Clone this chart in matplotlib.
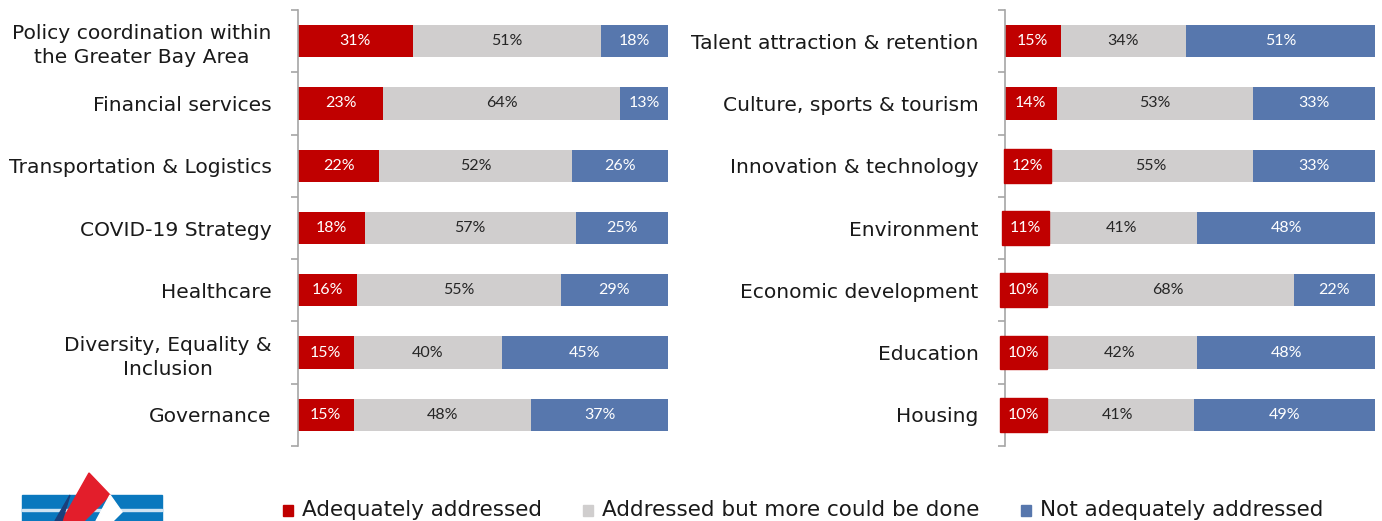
import matplotlib
matplotlib.use("Agg")
import matplotlib.pyplot as plt
from matplotlib.patches import Rectangle, Polygon

plt.rcParams['font.family'] = ['Lato', 'DejaVu Sans']

RED = "#C00000"
GRAY = "#D0CECE"
BLUE = "#5777AD"
SPINE = "#A6A6A6"

left_cats = ["Policy coordination within\nthe Greater Bay Area", "Financial services",
             "Transportation & Logistics", "COVID-19 Strategy", "Healthcare",
             "Diversity, Equality &\nInclusion", "Governance"]
left_adequate = [31, 23, 22, 18, 16, 15, 15]
left_more = [51, 64, 52, 57, 55, 40, 48]
left_not = [18, 13, 26, 25, 29, 45, 37]

right_cats = ["Talent attraction & retention", "Culture, sports & tourism",
              "Innovation & technology", "Environment", "Economic development",
              "Education", "Housing"]
right_adequate = [15, 14, 12, 11, 10, 10, 10]
right_more = [34, 53, 55, 41, 68, 42, 41]
right_not = [51, 33, 33, 48, 22, 48, 49]

series_names = ["Adequately addressed", "Addressed but more could be done",
                "Not adequately addressed"]

fig = plt.figure(figsize=(13.82, 5.21), dpi=100)
BAR_H = 0.52


def panel(rect, cats, a, m, n):
    ax = fig.add_axes(rect)
    ys = list(range(len(cats)))
    lefts = [0] * len(cats)
    for vals, col, tc in [(a, RED, "white"), (m, GRAY, "#262626"), (n, BLUE, "white")]:
        ax.barh(ys, vals, left=lefts, height=BAR_H, color=col, edgecolor="none")
        for y, l, v in zip(ys, lefts, vals):
            if col == RED and v <= 12:
                # label box wider than the thin red segment
                ax.add_patch(Rectangle((v / 2 - 6.35, y - BAR_H / 2 - 0.01), 12.7,
                                       BAR_H + 0.02, color=RED, clip_on=False, zorder=3))
            ax.text(l + v / 2, y, f"{v}%", ha="center", va="center",
                    fontsize=11.5, color=tc, zorder=4)
        lefts = [l + v for l, v in zip(lefts, vals)]
    ax.set_xlim(0, 100)
    ax.set_ylim(len(cats) - 0.5, -0.5)
    ax.set_yticks(ys)
    ax.set_yticklabels(cats, fontsize=14.6, color="#1a1a1a", linespacing=1.35,
                       family="DejaVu Sans")
    for t in ax.get_yticklabels():
        t.set_multialignment("center")
    ax.tick_params(axis="y", which="major", length=0, pad=19)
    ax.set_yticks([y - 0.5 for y in ys] + [len(cats) - 0.5], minor=True)
    ax.tick_params(axis="y", which="minor", length=5, color=SPINE, width=1.2)
    ax.set_xticks([])
    for s in ["top", "right", "bottom"]:
        ax.spines[s].set_visible(False)
    ax.spines["left"].set_color(SPINE)
    ax.spines["left"].set_linewidth(1.2)
    return ax


panel([298 / 1382, 1 - 446 / 521, 370 / 1382, 436 / 521],
      left_cats, left_adequate, left_more, left_not)
panel([1005 / 1382, 1 - 446 / 521, 370 / 1382, 436 / 521],
      right_cats, right_adequate, right_more, right_not)

# legend
lx = [283, 583, 1021]
for x, name, col in zip(lx, series_names, [RED, GRAY, BLUE]):
    fig.patches.append(Rectangle((x / 1382, 1 - 516 / 521), 10 / 1382, 11 / 521,
                                 transform=fig.transFigure, color=col))
    fig.text((x + 19) / 1382, 1 - 510 / 521, name, fontsize=15.5, va="center",
             color="#1a1a1a", family="DejaVu Sans")

# logo (cropped at the bottom edge)
logo = fig.add_axes([0, 0, 1, 1], zorder=-1)
logo.set_xlim(0, 1382)
logo.set_ylim(521, 0)
logo.axis("off")
logo.add_patch(Rectangle((22, 495), 140, 26, color="#0A78BE"))
logo.add_patch(Rectangle((22, 509), 140, 1.5, color="#CFE3F2"))
logo.add_patch(Polygon([(89, 473), (110, 495), (84, 521), (62, 521)], color="#E31E2B"))
logo.add_patch(Polygon([(70, 495), (62, 521), (55, 521)], color="#1B3F7A"))
logo.add_patch(Polygon([(110, 495), (122, 512), (113, 521), (96, 521)], color="white"))

fig.savefig("out.png", dpi=100, facecolor="white")
